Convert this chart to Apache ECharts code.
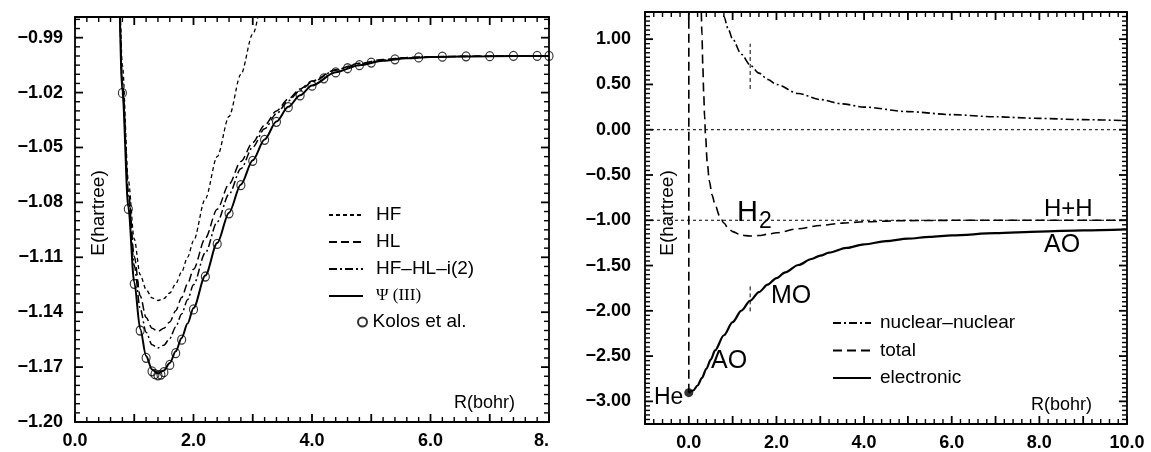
<!DOCTYPE html>
<html><head><meta charset="utf-8">
<script src="https://cdn.jsdelivr.net/npm/echarts@6/dist/echarts.min.js"></script>
<style>html,body{margin:0;padding:0;background:#fff}#c{width:1151px;height:452px}</style>
</head><body><div id="c"></div>
<script>
// ---------- Left panel: H2 potential curves ----------
const rCurve = [0.6,0.7,0.8,0.9,1.0,1.1,1.2,1.3,1.4,1.5,1.6,1.7,1.8,1.9,2.0,2.2,2.4,2.6,2.8,3.0,3.2,3.4,3.6,3.8,4.0,4.4,4.8,5.2,5.6,6.0,7.0,8.0];
const eHF   = [-0.74,-0.90,-1.005,-1.068,-1.100,-1.1195,-1.1275,-1.1322,-1.1336,-1.1326,-1.1295,-1.1245,-1.1180,-1.1100,-1.1010,-1.0780,-1.0550,-1.0330,-1.0100,-0.9880,-0.9650,-0.9420,-0.92,-0.90,-0.88,-0.84,-0.80,-0.76,-0.72,-0.70,-0.66,-0.62];
const eHL   = [-0.762,-0.907,-1.0142,-1.0736,-1.1095,-1.1310,-1.1429,-1.1488,-1.1505,-1.1488,-1.1453,-1.1392,-1.1320,-1.1245,-1.1165,-1.0995,-1.0837,-1.0700,-1.0576,-1.0473,-1.0378,-1.0300,-1.0235,-1.0180,-1.0137,-1.0075,-1.0040,-1.0019,-1.0008,-1.0004,-1.0000,-1.0000];
const eHFHL = [-0.764,-0.909,-1.0162,-1.0766,-1.1145,-1.1380,-1.1509,-1.1578,-1.1595,-1.1580,-1.1543,-1.1480,-1.1410,-1.1332,-1.1250,-1.1075,-1.0907,-1.0755,-1.0616,-1.0498,-1.0398,-1.0315,-1.0245,-1.0188,-1.0142,-1.0078,-1.0042,-1.0022,-1.0010,-1.0005,-1.0001,-1.0000];
const ePsi  = [-0.769,-0.914,-1.0195,-1.0828,-1.1236,-1.1490,-1.1639,-1.1713,-1.1735,-1.1718,-1.1678,-1.1614,-1.1541,-1.1462,-1.1377,-1.1199,-1.1022,-1.0856,-1.0702,-1.0570,-1.0456,-1.0358,-1.0278,-1.0214,-1.0161,-1.0089,-1.0050,-1.0026,-1.0012,-1.0006,-1.0001,-1.0000];
const rKolos = [0.8,0.9,1.0,1.1,1.2,1.3,1.35,1.4,1.45,1.5,1.6,1.7,1.8,2.0,2.2,2.4,2.6,2.8,3.0,3.2,3.4,3.6,3.8,4.0,4.2,4.4,4.6,4.8,5.0,5.4,5.8,6.2,6.6,7.0,7.4,7.8,8.0];
const eKolos = [-1.0202,-1.0836,-1.1245,-1.1500,-1.1649,-1.1723,-1.1739,-1.1745,-1.1741,-1.1728,-1.1688,-1.1624,-1.1550,-1.1385,-1.1205,-1.1027,-1.0860,-1.0706,-1.0573,-1.0458,-1.0360,-1.0280,-1.0215,-1.0162,-1.0122,-1.0090,-1.0067,-1.0050,-1.0036,-1.0018,-1.0008,-1.0004,-1.0002,-1.0001,-1.0000,-1.0000,-1.0000];

// ---------- Right panel: energy components ----------
const rNuc = [0.7,0.75,0.8,0.9,1.0,1.2,1.4,1.6,1.8,2.0,2.5,3.0,3.5,4.0,5.0,6.0,7.0,8.0,9.0,10.0];
const eNuc = [1.4286,1.3333,1.25,1.1111,1.0,0.8333,0.7143,0.625,0.5556,0.5,0.4,0.3333,0.2857,0.25,0.2,0.1667,0.1429,0.125,0.1111,0.1];
const rTot = [0.28,0.30,0.32,0.34,0.36,0.38,0.42,0.47,0.53,0.6,0.7,0.8,0.9,1.0,1.2,1.4,1.6,1.8,2.0,2.5,3.0,3.5,4.0,5.0,6.0,8.0,10.0];
const eTot = [1.45,1.05,0.70,0.40,0.15,-0.05,-0.36,-0.57,-0.72,-0.83,-0.95,-1.03,-1.09,-1.125,-1.165,-1.1745,-1.169,-1.155,-1.1385,-1.094,-1.0573,-1.032,-1.016,-1.0036,-1.0006,-1.0,-1.0];
const rEl = [0,0.1,0.2,0.3,0.4,0.5,0.6,0.8,1.0,1.2,1.4,1.6,1.8,2.0,2.2,2.5,2.8,3.0,3.2,3.6,4.0,4.5,5.0,5.5,6.0,7.0,8.0,9.0,10.0];
const eEl = [-2.904,-2.88,-2.825,-2.74,-2.64,-2.54,-2.436,-2.270,-2.1245,-1.998,-1.889,-1.794,-1.711,-1.6385,-1.575,-1.494,-1.4277,-1.391,-1.3583,-1.3058,-1.266,-1.230,-1.2036,-1.1833,-1.1673,-1.143,-1.125,-1.1111,-1.100];
const heAtom = [0, -2.904];
const unitedAtomLine = [[0,-2.904],[0,1.6]];
const refLevels = [0.0, -1.0];
const rEq = 1.4;
const eqMarkNuc = [0.45, 0.95];
const eqMarkEl = [-1.73, -2.01];

// ---------- Axis tick labels ----------
const xLeftTickLabels  = ['0.0','2.0','4.0','6.0','8.'];
const xRightTickLabels = ['0.0','2.0','4.0','6.0','8.0','10.0'];

const pairs = (xs, ys) => xs.map((x, i) => [x, ys[i]]);

const FONT = '"Liberation Sans", Arial, Helvetica, sans-serif';
const tickLabel = {color:'#000', fontFamily:FONT, fontWeight:'bold', fontSize:18};

const W = 1151, H = 452;
const gridL = {left:75, right:602, top:17, bottom:30};
const gridR = {left:645, right:24, top:12, bottom:28};

function axisCommon(showLabel, extra) {
  return Object.assign({
    type:'value',
    axisLine:{show:true, onZero:false, lineStyle:{color:'#000', width:1.8}},
    axisTick:{show:false},
    minorTick:{show:false},
    splitLine:{show:false},
    axisLabel:{show:showLabel}
  }, extra);
}
const fmtMinus = (v, d) => (Math.abs(v) < 1e-9 ? (0).toFixed(d) : (v < 0 ? '\u2212' : '') + Math.abs(v).toFixed(d));

const xL = {min:0, max:8, interval:1};
const yL = {min:-1.20, max:-0.9787, interval:0.03};
const xR = {min:-1, max:10, interval:1};
const yR = {min:-3.25, max:1.3, interval:0.25};

const isMult = (v, base, step) => { const k = (v - base) / step; return Math.abs(k - Math.round(k)) < 1e-6; };

const xLeftLabels = {show:true, margin:10, ...tickLabel, alignMaxLabel:'right',
  formatter: v => isMult(v, 0, 2) ? xLeftTickLabels[Math.round(v / 2)] : ''};
const xRightLabels = {show:true, margin:10, ...tickLabel,
  formatter: v => (v >= 0 && isMult(v, 0, 2)) ? xRightTickLabels[Math.round(v / 2)] : ''};
const yLeftLabels = {show:true, margin:12, ...tickLabel,
  formatter: v => isMult(v, yL.min, yL.interval) ? fmtMinus(v, 2) : ''};
const yRightLabels = {show:true, margin:14, ...tickLabel,
  formatter: v => isMult(v, 0, 0.5) ? fmtMinus(v, 2) : ''};

const blk = '#000';
const lineS = (name, xi, yi, data, type, width) => ({
  name, type:'line', xAxisIndex:xi, yAxisIndex:yi, data, symbol:'none', showSymbol:false, smooth:0.3, smoothMonotone:'x',
  lineStyle:{color:blk, width, type}, itemStyle:{color:blk}, silent:true, z:3
});
const legendText = {color:'#000', fontFamily:FONT, fontSize:19, lineHeight:20};

const textEls = [
  {type:'text', x:99, y:213, rotation:Math.PI/2, silent:true,
   style:{text:'E(hartree)', fontFamily:FONT, fontSize:19, fill:'#000', align:'center', verticalAlign:'middle'}},
  {type:'text', x:515, y:403, silent:true,
   style:{text:'R(bohr)', fontFamily:FONT, fontSize:18, fill:'#000', align:'right', verticalAlign:'middle'}},
  {type:'text', x:668, y:213, rotation:Math.PI/2, silent:true,
   style:{text:'E(hartree)', fontFamily:FONT, fontSize:19, fill:'#000', align:'center', verticalAlign:'middle'}},
  {type:'text', x:1092, y:405, silent:true,
   style:{text:'R(bohr)', fontFamily:FONT, fontSize:18, fill:'#000', align:'right', verticalAlign:'middle'}},
  {type:'text', x:737, y:213, silent:true,
   style:{text:'H', fontFamily:FONT, fontSize:29, fill:'#000', align:'left', verticalAlign:'middle'}},
  {type:'text', x:759, y:222, silent:true,
   style:{text:'2', fontFamily:FONT, fontSize:23, fill:'#000', align:'left', verticalAlign:'middle'}},
  {type:'text', x:1044, y:209, silent:true,
   style:{text:'H+H', fontFamily:FONT, fontSize:24, fill:'#000', align:'left', verticalAlign:'middle'}},
  {type:'text', x:1044, y:245, silent:true,
   style:{text:'AO', fontFamily:FONT, fontSize:25, fill:'#000', align:'left', verticalAlign:'middle'}},
  {type:'text', x:771, y:296, silent:true,
   style:{text:'MO', fontFamily:FONT, fontSize:25, fill:'#000', align:'left', verticalAlign:'middle'}},
  {type:'text', x:711, y:361, silent:true,
   style:{text:'AO', fontFamily:FONT, fontSize:25, fill:'#000', align:'left', verticalAlign:'middle'}},
  {type:'text', x:654, y:398, silent:true,
   style:{text:'He', fontFamily:FONT, fontSize:23, fill:'#000', align:'left', verticalAlign:'middle'}}
];

const option = {
  animation:false,
  backgroundColor:'#fff',
  grid:[gridL, gridR],
  xAxis:[
    axisCommon(true, {gridIndex:0, position:'bottom', ...xL, axisLabel:xLeftLabels}),
    axisCommon(false, {gridIndex:0, position:'top', ...xL}),
    axisCommon(true, {gridIndex:1, position:'bottom', ...xR, axisLabel:xRightLabels}),
    axisCommon(false, {gridIndex:1, position:'top', ...xR})
  ],
  yAxis:[
    axisCommon(true, {gridIndex:0, position:'left', ...yL, axisLabel:yLeftLabels}),
    axisCommon(false, {gridIndex:0, position:'right', ...yL}),
    axisCommon(true, {gridIndex:1, position:'left', ...yR, axisLabel:yRightLabels}),
    axisCommon(false, {gridIndex:1, position:'right', ...yR})
  ],
  legend:[
    {data:['HF','HL','HF\u2013HL\u2013i(2)','\u03A8 (III)'], orient:'vertical', left:328, top:205, padding:0,
     itemWidth:34, itemHeight:14, itemGap:7, selectedMode:false, itemStyle:{opacity:0},
     textStyle:{...legendText, padding:[0,0,0,8],
       rich:{g:{fontFamily:'"Liberation Serif", "DejaVu Serif", serif', fontSize:17, lineHeight:20, color:'#000'}}},
     formatter: n => n === '\u03A8 (III)' ? '{g|' + n + '}' : n},
    {data:['Kolos et al.'], orient:'vertical', left:357, top:312, padding:0, itemWidth:10, itemHeight:9, selectedMode:false,
     textStyle:{...legendText}},
    {data:['nuclear\u2013nuclear','total','electronic'], orient:'vertical', left:832, top:313, padding:0,
     itemWidth:38, itemHeight:14, itemGap:7.5, selectedMode:false, itemStyle:{opacity:0},
     textStyle:{...legendText, padding:[0,0,0,4]}}
  ],
  graphic:textEls,
  series:[
    lineS('HF', 0, 0, pairs(rCurve, eHF), [4,3], 1.3),
    lineS('HL', 0, 0, pairs(rCurve, eHL), [8,4], 1.5),
    lineS('HF\u2013HL\u2013i(2)', 0, 0, pairs(rCurve, eHFHL), [8,3,2,3], 1.5),
    lineS('\u03A8 (III)', 0, 0, pairs(rCurve, ePsi), 'solid', 2),
    {name:'Kolos et al.', type:'scatter', xAxisIndex:0, yAxisIndex:0, data:pairs(rKolos, eKolos),
     symbol:'circle', symbolSize:[8,9], silent:true, z:4,
     itemStyle:{color:'rgba(255,255,255,0)', borderColor:'#000', borderWidth:1.2}},

    lineS('nuclear\u2013nuclear', 2, 2, pairs(rNuc, eNuc), [8,3,2,3], 1.6),
    lineS('total', 2, 2, pairs(rTot, eTot), [9,5], 1.6),
    lineS('electronic', 2, 2, pairs(rEl, eEl), 'solid', 2.2),
    {name:'unitedAtom', type:'line', xAxisIndex:2, yAxisIndex:2, data:unitedAtomLine, symbol:'none', silent:true,
     lineStyle:{color:blk, width:1.6, type:[9,5]}},
    {name:'ref0', type:'line', xAxisIndex:2, yAxisIndex:2, data:[[xR.min, refLevels[0]],[xR.max, refLevels[0]]], symbol:'none', silent:true,
     lineStyle:{color:blk, width:1, type:[3,3]}},
    {name:'ref1', type:'line', xAxisIndex:2, yAxisIndex:2, data:[[xR.min, refLevels[1]],[xR.max, refLevels[1]]], symbol:'none', silent:true,
     lineStyle:{color:blk, width:1, type:[3,3]}},
    {name:'eqNuc', type:'line', xAxisIndex:2, yAxisIndex:2, data:[[rEq, eqMarkNuc[0]],[rEq, eqMarkNuc[1]]], symbol:'none', silent:true,
     lineStyle:{color:blk, width:1, type:[4,3]}},
    {name:'eqEl', type:'line', xAxisIndex:2, yAxisIndex:2, data:[[rEq, eqMarkEl[0]],[rEq, eqMarkEl[1]]], symbol:'none', silent:true,
     lineStyle:{color:blk, width:1, type:[4,3]}},
    {name:'He', type:'scatter', xAxisIndex:2, yAxisIndex:2, data:[heAtom], symbol:'circle', symbolSize:9, silent:true, z:5,
     itemStyle:{color:blk}}
  ]
};
const chart = echarts.init(document.getElementById('c'), null, {renderer:'canvas'});
chart.setOption(option);

// inside frame ticks on all four sides, placed through the axes' own scales
function frameTickEls(grid, xi, yi, xs, ys, xStep, xMajStep, yStep, yMajBase, yMajStep) {
  const L = grid.left, R = W - grid.right, T = grid.top, B = H - grid.bottom;
  const els = [];
  const mk = (x1, y1, x2, y2, major) => ({type:'line', silent:true, z:100,
    shape:{x1, y1, x2, y2}, style:{stroke:'#000', lineWidth: major ? 1.8 : 1.4}});
  const nx = Math.floor((xs.max - xs.min) / xStep + 1e-6);
  for (let i = 0; i <= nx; i++) {
    const v = +(xs.min + i * xStep).toFixed(6);
    const major = isMult(v, 0, xMajStep), len = major ? 8 : 5;
    const px = chart.convertToPixel({xAxisIndex:xi}, v);
    els.push(mk(px, B, px, B - len, major), mk(px, T, px, T + len, major));
  }
  const ny = Math.floor((ys.max - ys.min) / yStep + 1e-6);
  for (let i = 0; i <= ny; i++) {
    const v = +(ys.min + i * yStep).toFixed(6);
    const major = isMult(v, yMajBase, yMajStep), len = major ? 8 : 5;
    const py = chart.convertToPixel({yAxisIndex:yi}, v);
    els.push(mk(L, py, L + len, py, major), mk(R, py, R - len, py, major));
  }
  return els;
}
const tickEls = frameTickEls(gridL, 0, 0, xL, yL, 0.2, 1, 0.005, yL.min, 0.03)
  .concat(frameTickEls(gridR, 2, 2, xR, yR, 0.2, 1, 0.05, 0, 0.5));
chart.setOption({graphic: textEls.concat(tickEls)});
</script>
</body></html>
